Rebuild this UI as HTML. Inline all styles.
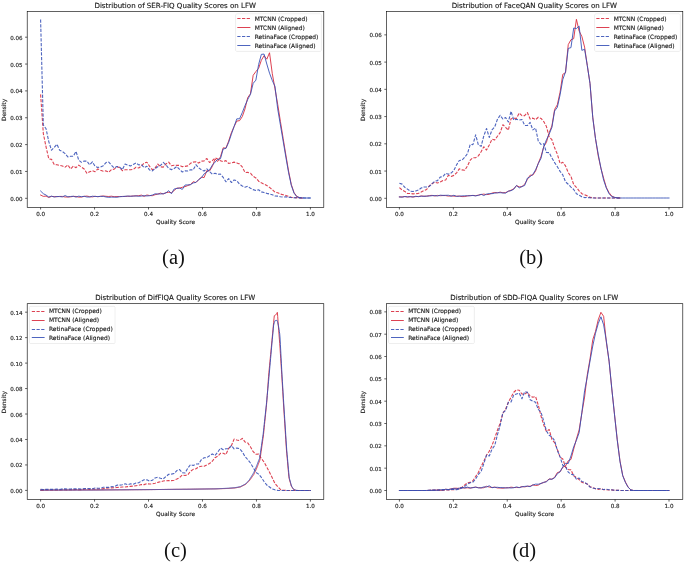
<!DOCTYPE html>
<html lang="en">
<head>
<meta charset="utf-8">
<title>Distribution of Quality Scores on LFW</title>
<style>
html,body{margin:0;padding:0;background:#ffffff;}
body{width:685px;height:563px;overflow:hidden;}
</style>
</head>
<body>
<svg width="685" height="563" viewBox="0 0 685 563" style="display:block;will-change:transform;opacity:0.999">
<rect width="685" height="563" fill="#ffffff"/>
<g font-family="'DejaVu Sans', 'Liberation Sans', sans-serif" font-size="5.85" fill="#1a1a1a" stroke="#1a1a1a" stroke-width="0.14" paint-order="stroke">
<clipPath id="cp0"><rect x="27.2" y="11.4" width="296.6" height="196.0"/></clipPath>
<g clip-path="url(#cp0)" fill="none" stroke-width="1.0" stroke-linejoin="round" stroke-opacity="0.88">
<polyline points="40.60,94.36 43.33,133.56 46.05,146.99 48.78,158.80 51.50,159.34 54.23,164.44 56.95,164.71 59.68,165.41 62.40,165.92 65.13,167.13 67.85,164.91 70.58,168.98 73.30,166.17 76.03,167.69 78.75,165.16 81.48,167.07 84.20,169.02 86.93,173.33 89.65,171.85 92.38,170.67 95.11,171.68 97.83,168.92 100.56,170.22 103.28,171.19 106.01,170.91 108.73,172.28 111.46,169.62 114.18,169.18 116.91,166.73 119.63,167.61 122.36,170.64 125.08,169.82 127.81,169.81 130.53,169.82 133.26,169.43 135.98,167.26 138.71,167.95 141.43,165.98 144.16,163.04 146.88,162.19 149.61,166.37 152.34,169.70 155.06,168.17 157.79,164.03 160.51,166.83 163.24,167.09 165.96,163.95 168.69,162.14 171.41,165.74 174.14,165.30 176.86,165.33 179.59,165.40 182.31,166.63 185.04,166.39 187.76,165.89 190.49,163.35 193.21,162.10 195.94,161.78 198.66,163.07 201.39,161.15 204.12,160.85 206.84,158.48 209.57,162.46 212.29,160.65 215.02,157.93 217.74,158.95 220.47,160.69 223.19,161.70 225.92,160.63 228.64,163.42 231.37,162.95 234.09,162.13 236.82,162.90 239.54,163.92 242.27,166.93 244.99,172.45 247.72,172.37 250.44,173.22 253.17,176.30 255.89,177.91 258.62,181.18 261.35,182.87 264.07,184.12 266.80,185.56 269.52,187.39 272.25,189.55 274.97,192.24 277.70,192.82 280.42,194.06 283.15,194.72 285.87,195.43 288.60,196.46 291.32,197.24 294.05,197.57 296.77,197.66 299.50,197.99 302.22,198.00" stroke="#d8283a" stroke-dasharray="3.25 1.45" stroke-width="1.1"/>
<polyline points="40.60,195.05 43.33,196.39 46.05,196.08 48.78,197.44 51.50,196.43 54.23,196.59 56.95,196.71 59.68,196.43 62.40,196.43 65.13,197.01 67.85,196.98 70.58,196.83 73.30,196.41 76.03,196.46 78.75,197.13 81.48,197.06 84.20,196.39 86.93,196.09 89.65,196.67 92.38,196.90 95.11,196.26 97.83,196.74 100.56,196.33 103.28,195.99 106.01,196.31 108.73,196.49 111.46,196.21 114.18,196.71 116.91,196.50 119.63,196.63 122.36,196.44 125.08,196.47 127.81,196.26 130.53,196.25 133.26,195.96 135.98,195.88 138.71,195.69 141.43,195.11 144.16,196.42 146.88,195.00 149.61,195.54 152.34,195.68 155.06,194.71 157.79,194.14 160.51,193.08 163.24,194.01 165.96,192.66 168.69,192.25 171.41,192.61 174.14,190.56 176.86,188.10 179.59,188.15 182.31,187.25 185.04,186.68 187.76,185.56 190.49,184.50 193.21,181.68 195.94,182.56 198.66,179.83 201.39,177.06 204.12,177.58 206.84,170.61 209.57,170.98 212.29,166.54 215.02,159.18 217.74,161.45 220.47,156.71 223.19,147.79 225.92,148.22 228.64,141.12 231.37,132.76 234.09,126.64 236.82,121.04 239.54,120.67 242.27,116.64 244.99,108.86 247.72,97.58 250.44,93.82 253.17,75.30 255.89,71.54 258.62,68.31 261.35,60.26 264.07,55.69 266.80,59.19 269.52,52.74 272.25,73.42 274.97,88.72 277.70,104.29 280.42,121.48 283.15,138.39 285.87,155.04 288.60,171.15 291.32,184.57 294.05,192.63 296.77,196.39 299.50,197.60 302.22,198.00" stroke="#d8283a" stroke-linecap="square"/>
<polyline points="40.60,19.45 43.33,124.97 46.05,128.73 48.78,141.62 51.50,150.21 54.23,147.52 56.95,144.30 59.68,150.35 62.40,151.57 65.13,153.64 67.85,156.91 70.58,156.28 73.30,156.19 76.03,151.45 78.75,160.20 81.48,162.34 84.20,161.07 86.93,161.12 89.65,164.82 92.38,161.78 95.11,166.33 97.83,167.41 100.56,166.93 103.28,165.64 106.01,162.53 108.73,162.12 111.46,165.21 114.18,167.92 116.91,166.62 119.63,167.06 122.36,169.71 125.08,164.09 127.81,165.04 130.53,165.98 133.26,164.43 135.98,162.99 138.71,164.88 141.43,164.68 144.16,167.56 146.88,166.21 149.61,170.06 152.34,170.95 155.06,168.65 157.79,166.79 160.51,165.44 163.24,162.44 165.96,164.83 168.69,168.52 171.41,169.63 174.14,168.48 176.86,166.55 179.59,169.45 182.31,172.01 185.04,170.92 187.76,170.96 190.49,169.68 193.21,169.94 195.94,164.73 198.66,167.77 201.39,169.79 204.12,171.04 206.84,168.85 209.57,171.58 212.29,174.22 215.02,173.29 217.74,174.26 220.47,174.08 223.19,177.39 225.92,181.78 228.64,178.58 231.37,182.54 234.09,179.97 236.82,180.82 239.54,184.17 242.27,185.94 244.99,187.18 247.72,186.26 250.44,188.26 253.17,189.64 255.89,190.44 258.62,189.79 261.35,191.89 264.07,192.58 266.80,193.35 269.52,194.00 272.25,194.75 274.97,195.95 277.70,196.15 280.42,196.72 283.15,197.08 285.87,196.83 288.60,197.42 291.32,197.53 294.05,197.81 296.77,197.85 299.50,197.73 302.22,197.91 304.95,197.95 307.67,197.93 310.40,198.00" stroke="#3550b6" stroke-dasharray="3.25 1.45" stroke-width="1.1"/>
<polyline points="40.60,191.02 43.33,193.70 46.05,195.05 48.78,197.06 51.50,196.14 54.23,197.06 56.95,196.50 59.68,196.59 62.40,196.88 65.13,195.57 67.85,196.87 70.58,196.49 73.30,196.26 76.03,197.10 78.75,196.17 81.48,196.70 84.20,196.29 86.93,196.99 89.65,197.03 92.38,196.22 95.11,196.47 97.83,196.57 100.56,196.36 103.28,196.37 106.01,196.98 108.73,197.35 111.46,197.13 114.18,197.15 116.91,197.30 119.63,196.66 122.36,196.57 125.08,196.29 127.81,196.09 130.53,196.26 133.26,196.11 135.98,195.88 138.71,196.28 141.43,196.09 144.16,195.68 146.88,195.95 149.61,195.71 152.34,195.07 155.06,193.84 157.79,194.01 160.51,193.98 163.24,193.68 165.96,192.90 168.69,190.68 171.41,193.79 174.14,189.00 176.86,188.45 179.59,187.99 182.31,189.42 185.04,185.06 187.76,184.91 190.49,184.69 193.21,182.94 195.94,182.40 198.66,179.57 201.39,177.80 204.12,173.84 206.84,172.11 209.57,169.81 212.29,165.23 215.02,162.12 217.74,159.43 220.47,158.73 223.19,148.93 225.92,148.42 228.64,142.49 231.37,134.30 234.09,126.49 236.82,118.84 239.54,118.79 242.27,112.62 244.99,105.64 247.72,99.46 250.44,94.36 253.17,83.35 255.89,80.13 258.62,64.56 261.35,54.35 264.07,54.08 266.80,64.02 269.52,73.15 272.25,80.40 274.97,86.30 277.70,108.86 280.42,124.97 283.15,141.08 285.87,157.19 288.60,172.76 291.32,185.38 294.05,193.17 296.77,196.66 299.50,197.73 302.22,198.00 304.95,198.00 307.67,198.00 310.40,198.00" stroke="#3550b6" stroke-linecap="square"/>
</g>
<rect x="27.2" y="11.4" width="296.6" height="196.0" fill="none" stroke="#000" stroke-width="0.62"/>
<text x="40.60" y="216.15" text-anchor="middle" font-size="5.6">0.0</text>
<text x="94.56" y="216.15" text-anchor="middle" font-size="5.6">0.2</text>
<text x="148.52" y="216.15" text-anchor="middle" font-size="5.6">0.4</text>
<text x="202.48" y="216.15" text-anchor="middle" font-size="5.6">0.6</text>
<text x="256.44" y="216.15" text-anchor="middle" font-size="5.6">0.8</text>
<text x="310.40" y="216.15" text-anchor="middle" font-size="5.6">1.0</text>
<text x="22.60" y="200.80" text-anchor="end" font-size="5.55">0.00</text>
<text x="22.60" y="173.95" text-anchor="end" font-size="5.55">0.01</text>
<text x="22.60" y="147.10" text-anchor="end" font-size="5.55">0.02</text>
<text x="22.60" y="120.25" text-anchor="end" font-size="5.55">0.03</text>
<text x="22.60" y="93.40" text-anchor="end" font-size="5.55">0.04</text>
<text x="22.60" y="66.55" text-anchor="end" font-size="5.55">0.05</text>
<text x="22.60" y="39.70" text-anchor="end" font-size="5.55">0.06</text>
<path d="M40.60 207.40v2.1M94.56 207.40v2.1M148.52 207.40v2.1M202.48 207.40v2.1M256.44 207.40v2.1M310.40 207.40v2.1M27.20 198.30h-2.1M27.20 171.45h-2.1M27.20 144.60h-2.1M27.20 117.75h-2.1M27.20 90.90h-2.1M27.20 64.05h-2.1M27.20 37.20h-2.1" stroke="#000" stroke-width="0.62" fill="none"/>
<text x="175.50" y="224.30" text-anchor="middle">Quality Score</text>
<text transform="translate(6.10 110.00) rotate(-90)" text-anchor="middle">Density</text>
<text x="175.20" y="7.50" text-anchor="middle" font-size="7.05">Distribution of SER-FIQ Quality Scores on LFW</text>
<rect x="235.80" y="14.10" width="85.3" height="37.1" rx="1.2" ry="1.2" fill="#fff" fill-opacity="0.8" stroke="#cccccc" stroke-width="0.55"/>
<line x1="237.30" y1="18.50" x2="250.40" y2="18.50" stroke="#d8283a" stroke-width="1.0" stroke-opacity="0.88" stroke-dasharray="3.25 1.45"/>
<text x="254.70" y="20.85" font-size="5.93">MTCNN (Cropped)</text>
<line x1="237.30" y1="27.50" x2="250.40" y2="27.50" stroke="#d8283a" stroke-width="1.0" stroke-opacity="0.88"/>
<text x="254.70" y="29.80" font-size="5.93">MTCNN (Aligned)</text>
<line x1="237.30" y1="36.50" x2="250.40" y2="36.50" stroke="#3550b6" stroke-width="1.0" stroke-opacity="0.88" stroke-dasharray="3.25 1.45"/>
<text x="254.70" y="38.75" font-size="5.93">RetinaFace (Cropped)</text>
<line x1="237.30" y1="45.50" x2="250.40" y2="45.50" stroke="#3550b6" stroke-width="1.0" stroke-opacity="0.88"/>
<text x="254.70" y="47.70" font-size="5.93">RetinaFace (Aligned)</text>
</g>
<text x="173.5" y="264.4" text-anchor="middle" font-family="'Liberation Serif', 'DejaVu Serif', serif" font-size="20.5" fill="#111">(a)</text>
<g font-family="'DejaVu Sans', 'Liberation Sans', sans-serif" font-size="5.85" fill="#1a1a1a" stroke="#1a1a1a" stroke-width="0.14" paint-order="stroke">
<clipPath id="cp1"><rect x="386.4" y="11.4" width="296.4" height="196.0"/></clipPath>
<g clip-path="url(#cp1)" fill="none" stroke-width="1.0" stroke-linejoin="round" stroke-opacity="0.88">
<polyline points="399.40,187.61 402.12,189.99 404.85,191.42 407.57,193.55 410.29,193.47 413.02,193.83 415.74,193.65 418.46,193.36 421.19,192.08 423.91,190.60 426.63,189.51 429.36,185.74 432.08,183.69 434.80,182.14 437.53,183.02 440.25,181.95 442.97,180.48 445.69,179.93 448.42,175.34 451.14,176.39 453.86,175.37 456.59,172.85 459.31,168.84 462.03,169.89 464.76,170.32 467.48,165.99 470.20,160.19 472.93,157.78 475.65,157.73 478.37,155.83 481.10,151.74 483.82,146.78 486.54,150.03 489.27,145.09 491.99,139.21 494.71,139.94 497.44,136.21 500.16,132.62 502.88,124.71 505.61,127.47 508.33,130.10 511.05,118.68 513.78,118.28 516.50,118.37 519.22,112.95 521.95,115.66 524.67,115.63 527.39,112.59 530.12,119.01 532.84,118.11 535.56,119.68 538.28,117.26 541.01,118.39 543.73,121.56 546.45,126.60 549.18,136.95 551.90,139.72 554.62,147.83 557.35,154.19 560.07,163.49 562.79,162.34 565.52,165.92 568.24,172.65 570.96,176.39 573.69,184.54 576.41,187.27 579.13,190.82 581.86,193.73 584.58,194.72 587.30,195.87 590.03,197.40 592.75,197.71 595.47,198.00 598.20,198.00 600.92,198.00 603.64,198.00 606.37,198.00 609.09,198.00 611.81,198.00 614.54,198.00 617.26,198.00 619.98,198.00" stroke="#d8283a" stroke-dasharray="3.25 1.45" stroke-width="1.1"/>
<polyline points="399.40,196.92 402.12,196.88 404.85,196.56 407.57,197.04 410.29,196.51 413.02,197.05 415.74,196.57 418.46,196.47 421.19,196.00 423.91,196.20 426.63,196.26 429.36,195.56 432.08,195.37 434.80,195.97 437.53,195.42 440.25,195.70 442.97,195.56 445.69,195.59 448.42,196.14 451.14,195.77 453.86,196.18 456.59,196.21 459.31,196.11 462.03,196.61 464.76,196.52 467.48,195.89 470.20,195.61 472.93,195.40 475.65,195.67 478.37,195.14 481.10,194.55 483.82,194.10 486.54,194.59 489.27,194.33 491.99,193.12 494.71,192.47 497.44,192.80 500.16,192.11 502.88,192.78 505.61,192.53 508.33,191.32 511.05,190.19 513.78,188.79 516.50,185.63 519.22,186.88 521.95,186.60 524.67,184.25 527.39,179.48 530.12,175.19 532.84,175.10 535.56,171.09 538.28,163.34 541.01,156.55 543.73,146.71 546.45,142.34 549.18,132.64 551.90,125.98 554.62,109.41 557.35,104.70 560.07,92.22 562.79,74.33 565.52,72.70 568.24,44.64 570.96,39.74 573.69,38.65 576.41,19.31 579.13,31.02 581.86,36.47 584.58,47.09 587.30,65.61 590.03,83.59 592.75,117.10 595.47,138.55 598.20,155.76 600.92,168.19 603.64,178.24 606.37,187.52 609.09,192.70 611.81,196.08 614.54,197.37 617.26,197.81 619.98,198.00" stroke="#d8283a" stroke-linecap="square"/>
<polyline points="399.40,183.24 402.12,184.11 404.85,187.37 407.57,189.18 410.29,191.19 413.02,191.52 415.74,190.98 418.46,190.06 421.19,187.99 423.91,187.07 426.63,186.96 429.36,186.43 432.08,183.67 434.80,181.27 437.53,180.62 440.25,177.11 442.97,176.47 445.69,173.19 448.42,174.22 451.14,173.08 453.86,170.45 456.59,164.88 459.31,160.44 462.03,160.04 464.76,157.26 467.48,153.56 470.20,144.50 472.93,144.67 475.65,134.84 478.37,144.92 481.10,146.37 483.82,135.77 486.54,128.52 489.27,137.45 491.99,129.95 494.71,126.93 497.44,119.28 500.16,115.30 502.88,119.05 505.61,117.49 508.33,122.02 511.05,111.30 513.78,120.10 516.50,119.29 519.22,120.07 521.95,119.47 524.67,125.42 527.39,125.56 530.12,122.37 532.84,129.89 535.56,128.09 538.28,141.04 541.01,144.52 543.73,143.67 546.45,152.53 549.18,152.68 551.90,157.94 554.62,162.65 557.35,166.65 560.07,171.37 562.79,174.92 565.52,181.88 568.24,184.27 570.96,187.08 573.69,189.51 576.41,193.67 579.13,195.13 581.86,196.82 584.58,197.59 587.30,197.57 590.03,197.79 592.75,197.97 595.47,198.00 598.20,198.00 600.92,198.00 603.64,198.00 606.37,198.00 609.09,198.00 611.81,198.00 614.54,198.00 617.26,198.00 619.98,198.00" stroke="#3550b6" stroke-dasharray="3.25 1.45" stroke-width="1.1"/>
<polyline points="399.40,196.93 402.12,197.18 404.85,196.55 407.57,196.80 410.29,196.81 413.02,196.88 415.74,196.29 418.46,196.70 421.19,196.13 423.91,196.35 426.63,196.07 429.36,196.04 432.08,195.68 434.80,195.52 437.53,195.98 440.25,195.21 442.97,195.38 445.69,195.34 448.42,195.26 451.14,196.26 453.86,195.28 456.59,196.39 459.31,196.16 462.03,195.93 464.76,195.79 467.48,195.77 470.20,195.70 472.93,195.49 475.65,195.88 478.37,195.37 481.10,194.22 483.82,195.52 486.54,194.11 489.27,193.60 491.99,193.70 494.71,193.11 497.44,192.74 500.16,192.70 502.88,192.94 505.61,193.17 508.33,191.16 511.05,190.68 513.78,189.23 516.50,185.45 519.22,187.88 521.95,186.54 524.67,185.53 527.39,178.16 530.12,176.70 532.84,174.34 535.56,169.92 538.28,163.60 541.01,158.27 543.73,146.73 546.45,139.79 549.18,134.14 551.90,127.41 554.62,111.04 557.35,107.24 560.07,94.91 562.79,79.51 565.52,71.88 568.24,48.45 570.96,47.64 573.69,28.02 576.41,28.57 579.13,26.12 581.86,50.36 584.58,49.27 587.30,65.61 590.03,83.59 592.75,117.61 595.47,138.51 598.20,154.04 600.92,168.07 603.64,180.17 606.37,188.06 609.09,193.85 611.81,196.56 614.54,197.37 617.26,197.86 619.98,198.00 622.71,198.00 625.43,198.00 628.15,198.00 630.87,198.00 633.60,198.00 636.32,198.00 639.04,198.00 641.77,198.00 644.49,198.00 647.21,198.00 649.94,198.00 652.66,198.00 655.38,198.00 658.11,198.00 660.83,198.00 663.55,198.00 666.28,198.00 669.00,198.00" stroke="#3550b6" stroke-linecap="square"/>
</g>
<rect x="386.4" y="11.4" width="296.4" height="196.0" fill="none" stroke="#000" stroke-width="0.62"/>
<text x="399.40" y="216.15" text-anchor="middle" font-size="5.6">0.0</text>
<text x="453.32" y="216.15" text-anchor="middle" font-size="5.6">0.2</text>
<text x="507.24" y="216.15" text-anchor="middle" font-size="5.6">0.4</text>
<text x="561.16" y="216.15" text-anchor="middle" font-size="5.6">0.6</text>
<text x="615.08" y="216.15" text-anchor="middle" font-size="5.6">0.8</text>
<text x="669.00" y="216.15" text-anchor="middle" font-size="5.6">1.0</text>
<text x="381.80" y="200.80" text-anchor="end" font-size="5.55">0.00</text>
<text x="381.80" y="173.56" text-anchor="end" font-size="5.55">0.01</text>
<text x="381.80" y="146.32" text-anchor="end" font-size="5.55">0.02</text>
<text x="381.80" y="119.08" text-anchor="end" font-size="5.55">0.03</text>
<text x="381.80" y="91.84" text-anchor="end" font-size="5.55">0.04</text>
<text x="381.80" y="64.60" text-anchor="end" font-size="5.55">0.05</text>
<text x="381.80" y="37.36" text-anchor="end" font-size="5.55">0.06</text>
<path d="M399.40 207.40v2.1M453.32 207.40v2.1M507.24 207.40v2.1M561.16 207.40v2.1M615.08 207.40v2.1M669.00 207.40v2.1M386.40 198.30h-2.1M386.40 171.06h-2.1M386.40 143.82h-2.1M386.40 116.58h-2.1M386.40 89.34h-2.1M386.40 62.10h-2.1M386.40 34.86h-2.1" stroke="#000" stroke-width="0.62" fill="none"/>
<text x="534.60" y="224.30" text-anchor="middle">Quality Score</text>
<text transform="translate(365.30 110.00) rotate(-90)" text-anchor="middle">Density</text>
<text x="534.30" y="7.50" text-anchor="middle" font-size="7.05">Distribution of FaceQAN Quality Scores on LFW</text>
<rect x="594.80" y="14.10" width="85.3" height="37.1" rx="1.2" ry="1.2" fill="#fff" fill-opacity="0.8" stroke="#cccccc" stroke-width="0.55"/>
<line x1="596.30" y1="18.50" x2="609.40" y2="18.50" stroke="#d8283a" stroke-width="1.0" stroke-opacity="0.88" stroke-dasharray="3.25 1.45"/>
<text x="613.70" y="20.85" font-size="5.93">MTCNN (Cropped)</text>
<line x1="596.30" y1="27.50" x2="609.40" y2="27.50" stroke="#d8283a" stroke-width="1.0" stroke-opacity="0.88"/>
<text x="613.70" y="29.80" font-size="5.93">MTCNN (Aligned)</text>
<line x1="596.30" y1="36.50" x2="609.40" y2="36.50" stroke="#3550b6" stroke-width="1.0" stroke-opacity="0.88" stroke-dasharray="3.25 1.45"/>
<text x="613.70" y="38.75" font-size="5.93">RetinaFace (Cropped)</text>
<line x1="596.30" y1="45.50" x2="609.40" y2="45.50" stroke="#3550b6" stroke-width="1.0" stroke-opacity="0.88"/>
<text x="613.70" y="47.70" font-size="5.93">RetinaFace (Aligned)</text>
</g>
<text x="531.1" y="264.4" text-anchor="middle" font-family="'Liberation Serif', 'DejaVu Serif', serif" font-size="20.5" fill="#111">(b)</text>
<g font-family="'DejaVu Sans', 'Liberation Sans', sans-serif" font-size="5.85" fill="#1a1a1a" stroke="#1a1a1a" stroke-width="0.14" paint-order="stroke">
<clipPath id="cp2"><rect x="27.2" y="303.7" width="296.6" height="195.8"/></clipPath>
<g clip-path="url(#cp2)" fill="none" stroke-width="1.0" stroke-linejoin="round" stroke-opacity="0.88">
<polyline points="40.60,490.08 43.33,490.12 46.05,489.84 48.78,490.07 51.50,490.00 54.23,489.83 56.95,490.03 59.68,489.95 62.40,489.81 65.13,489.82 67.85,489.88 70.58,489.71 73.30,489.68 76.03,489.49 78.75,489.76 81.48,489.57 84.20,489.20 86.93,488.99 89.65,489.44 92.38,488.99 95.11,489.18 97.83,489.07 100.56,488.96 103.28,488.65 106.01,488.14 108.73,487.96 111.46,487.89 114.18,487.80 116.91,487.52 119.63,487.36 122.36,486.93 125.08,487.07 127.81,486.63 130.53,486.39 133.26,486.11 135.98,485.70 138.71,485.33 141.43,484.56 144.16,484.64 146.88,483.68 149.61,484.06 152.34,483.84 155.06,483.18 157.79,482.41 160.51,481.77 163.24,480.98 165.96,480.70 168.69,480.65 171.41,480.66 174.14,480.17 176.86,479.08 179.59,477.67 182.31,475.05 185.04,475.55 187.76,474.90 190.49,471.25 193.21,469.41 195.94,468.76 198.66,466.96 201.39,466.30 204.12,466.31 206.84,464.93 209.57,463.50 212.29,461.25 215.02,457.64 217.74,456.26 220.47,453.42 223.19,453.20 225.92,454.61 228.64,448.29 231.37,445.70 234.09,439.13 236.82,439.92 239.54,440.53 242.27,438.40 244.99,441.92 247.72,442.89 250.44,446.78 253.17,451.67 255.89,454.19 258.62,454.10 261.35,458.47 264.07,462.07 266.80,467.05 269.52,472.33 272.25,477.76 274.97,483.48 277.70,486.52 280.42,489.40 283.15,490.32 285.87,490.39 288.60,490.50 291.32,490.50 294.05,490.50 296.77,490.50 299.50,490.50 302.22,490.50 304.95,490.50 307.67,490.50 310.40,490.50" stroke="#d8283a" stroke-dasharray="3.25 1.45" stroke-width="1.1"/>
<polyline points="40.60,490.12 40.94,490.12 41.27,490.12 41.61,490.12 41.95,490.11 42.29,490.11 42.62,490.11 42.96,490.11 43.30,490.11 43.64,490.11 43.97,490.11 44.31,490.11 44.65,490.11 44.98,490.11 45.32,490.11 45.66,490.11 46.00,490.11 46.33,490.10 46.67,490.10 47.01,490.10 47.34,490.10 47.68,490.10 48.02,490.10 48.36,490.10 48.69,490.10 49.03,490.10 49.37,490.10 49.71,490.10 50.04,490.10 50.38,490.10 50.72,490.09 51.05,490.09 51.39,490.09 51.73,490.09 52.07,490.09 52.40,490.09 52.74,490.09 53.08,490.09 53.42,490.09 53.75,490.09 54.09,490.09 54.43,490.09 54.76,490.08 55.10,490.08 55.44,490.08 55.78,490.08 56.11,490.08 56.45,490.08 56.79,490.08 57.13,490.08 57.46,490.08 57.80,490.08 58.14,490.08 58.47,490.08 58.81,490.08 59.15,490.07 59.49,490.07 59.82,490.07 60.16,490.07 60.50,490.07 60.84,490.07 61.17,490.07 61.51,490.07 61.85,490.07 62.18,490.07 62.52,490.07 62.86,490.07 63.20,490.06 63.53,490.06 63.87,490.06 64.21,490.06 64.54,490.06 64.88,490.06 65.22,490.06 65.56,490.06 65.89,490.06 66.23,490.06 66.57,490.06 66.91,490.06 67.24,490.06 67.58,490.05 67.92,490.05 68.25,490.05 68.59,490.05 68.93,490.05 69.27,490.05 69.60,490.05 69.94,490.05 70.28,490.05 70.62,490.05 70.95,490.05 71.29,490.05 71.63,490.04 71.96,490.04 72.30,490.04 72.64,490.04 72.98,490.04 73.31,490.04 73.65,490.04 73.99,490.04 74.33,490.04 74.66,490.04 75.00,490.04 75.34,490.04 75.67,490.04 76.01,490.03 76.35,490.03 76.69,490.03 77.02,490.03 77.36,490.03 77.70,490.03 78.03,490.03 78.37,490.03 78.71,490.03 79.05,490.03 79.38,490.03 79.72,490.03 80.06,490.03 80.40,490.02 80.73,490.02 81.07,490.02 81.41,490.02 81.74,490.02 82.08,490.02 82.42,490.02 82.76,490.02 83.09,490.02 83.43,490.02 83.77,490.02 84.11,490.02 84.44,490.01 84.78,490.01 85.12,490.01 85.45,490.01 85.79,490.01 86.13,490.01 86.47,490.01 86.80,490.01 87.14,490.01 87.48,490.01 87.81,490.01 88.15,490.01 88.49,490.01 88.83,490.00 89.16,490.00 89.50,490.00 89.84,490.00 90.18,490.00 90.51,490.00 90.85,490.00 91.19,490.00 91.52,490.00 91.86,490.00 92.20,490.00 92.54,490.00 92.87,489.99 93.21,489.99 93.55,489.99 93.89,489.99 94.22,489.99 94.56,489.99 94.90,489.99 95.23,489.99 95.57,489.98 95.91,489.98 96.25,489.98 96.58,489.98 96.92,489.97 97.26,489.97 97.60,489.97 97.93,489.97 98.27,489.96 98.61,489.96 98.94,489.96 99.28,489.96 99.62,489.95 99.96,489.95 100.29,489.95 100.63,489.95 100.97,489.95 101.31,489.94 101.64,489.94 101.98,489.94 102.32,489.94 102.65,489.93 102.99,489.93 103.33,489.93 103.67,489.93 104.00,489.92 104.34,489.92 104.68,489.92 105.01,489.92 105.35,489.91 105.69,489.91 106.03,489.91 106.36,489.91 106.70,489.90 107.04,489.90 107.38,489.90 107.71,489.90 108.05,489.90 108.39,489.89 108.72,489.89 109.06,489.89 109.40,489.89 109.74,489.88 110.07,489.88 110.41,489.88 110.75,489.88 111.09,489.87 111.42,489.87 111.76,489.87 112.10,489.87 112.43,489.86 112.77,489.86 113.11,489.86 113.45,489.86 113.78,489.85 114.12,489.85 114.46,489.85 114.80,489.85 115.13,489.85 115.47,489.84 115.81,489.84 116.14,489.84 116.48,489.84 116.82,489.83 117.16,489.83 117.49,489.83 117.83,489.83 118.17,489.82 118.50,489.82 118.84,489.82 119.18,489.82 119.52,489.81 119.85,489.81 120.19,489.81 120.53,489.81 120.87,489.80 121.20,489.80 121.54,489.80 121.88,489.80 122.21,489.80 122.55,489.79 122.89,489.79 123.23,489.79 123.56,489.79 123.90,489.78 124.24,489.78 124.58,489.78 124.91,489.78 125.25,489.77 125.59,489.77 125.92,489.77 126.26,489.77 126.60,489.76 126.94,489.76 127.27,489.76 127.61,489.76 127.95,489.75 128.28,489.75 128.62,489.75 128.96,489.75 129.30,489.74 129.63,489.74 129.97,489.74 130.31,489.74 130.65,489.74 130.98,489.73 131.32,489.73 131.66,489.73 131.99,489.73 132.33,489.72 132.67,489.72 133.01,489.72 133.34,489.72 133.68,489.71 134.02,489.71 134.36,489.71 134.69,489.71 135.03,489.70 135.37,489.70 135.70,489.70 136.04,489.70 136.38,489.69 136.72,489.69 137.05,489.69 137.39,489.69 137.73,489.69 138.07,489.68 138.40,489.68 138.74,489.68 139.08,489.68 139.41,489.67 139.75,489.67 140.09,489.67 140.43,489.67 140.76,489.66 141.10,489.66 141.44,489.66 141.78,489.66 142.11,489.65 142.45,489.65 142.79,489.65 143.12,489.65 143.46,489.64 143.80,489.64 144.14,489.64 144.47,489.64 144.81,489.64 145.15,489.63 145.48,489.63 145.82,489.63 146.16,489.63 146.50,489.62 146.83,489.62 147.17,489.62 147.51,489.62 147.85,489.61 148.18,489.61 148.52,489.61 148.86,489.61 149.19,489.60 149.53,489.60 149.87,489.60 150.21,489.59 150.54,489.59 150.88,489.59 151.22,489.58 151.56,489.58 151.89,489.58 152.23,489.57 152.57,489.57 152.90,489.57 153.24,489.56 153.58,489.56 153.92,489.56 154.25,489.55 154.59,489.55 154.93,489.55 155.27,489.55 155.60,489.54 155.94,489.54 156.28,489.54 156.61,489.53 156.95,489.53 157.29,489.53 157.63,489.52 157.96,489.52 158.30,489.52 158.64,489.51 158.97,489.51 159.31,489.51 159.65,489.50 159.99,489.50 160.32,489.50 160.66,489.49 161.00,489.49 161.34,489.49 161.67,489.48 162.01,489.48 162.35,489.48 162.68,489.48 163.02,489.47 163.36,489.47 163.70,489.47 164.03,489.46 164.37,489.46 164.71,489.46 165.05,489.45 165.38,489.45 165.72,489.45 166.06,489.44 166.39,489.44 166.73,489.44 167.07,489.43 167.41,489.43 167.74,489.43 168.08,489.42 168.42,489.42 168.75,489.42 169.09,489.41 169.43,489.41 169.77,489.41 170.10,489.41 170.44,489.40 170.78,489.40 171.12,489.40 171.45,489.39 171.79,489.39 172.13,489.39 172.46,489.38 172.80,489.38 173.14,489.38 173.48,489.37 173.81,489.37 174.15,489.37 174.49,489.36 174.83,489.36 175.16,489.36 175.50,489.35 175.84,489.35 176.17,489.35 176.51,489.34 176.85,489.34 177.19,489.34 177.52,489.34 177.86,489.33 178.20,489.33 178.54,489.33 178.87,489.32 179.21,489.32 179.55,489.32 179.88,489.31 180.22,489.31 180.56,489.31 180.90,489.30 181.23,489.30 181.57,489.30 181.91,489.29 182.25,489.29 182.58,489.29 182.92,489.28 183.26,489.28 183.59,489.28 183.93,489.27 184.27,489.27 184.61,489.27 184.94,489.27 185.28,489.26 185.62,489.26 185.95,489.26 186.29,489.25 186.63,489.25 186.97,489.25 187.30,489.24 187.64,489.24 187.98,489.24 188.32,489.23 188.65,489.23 188.99,489.23 189.33,489.22 189.66,489.22 190.00,489.21 190.34,489.21 190.68,489.20 191.01,489.20 191.35,489.19 191.69,489.19 192.03,489.18 192.36,489.18 192.70,489.17 193.04,489.17 193.37,489.16 193.71,489.16 194.05,489.16 194.39,489.15 194.72,489.15 195.06,489.14 195.40,489.14 195.74,489.13 196.07,489.13 196.41,489.12 196.75,489.12 197.08,489.11 197.42,489.11 197.76,489.10 198.10,489.10 198.43,489.09 198.77,489.09 199.11,489.08 199.44,489.08 199.78,489.07 200.12,489.07 200.46,489.06 200.79,489.06 201.13,489.06 201.47,489.05 201.81,489.05 202.14,489.04 202.48,489.04 202.82,489.03 203.15,489.03 203.49,489.02 203.83,489.02 204.17,489.01 204.50,489.01 204.84,489.00 205.18,489.00 205.52,488.99 205.85,488.99 206.19,488.98 206.53,488.98 206.86,488.97 207.20,488.97 207.54,488.96 207.88,488.96 208.21,488.95 208.55,488.95 208.89,488.95 209.22,488.94 209.56,488.94 209.90,488.93 210.24,488.93 210.57,488.92 210.91,488.92 211.25,488.91 211.59,488.91 211.92,488.90 212.26,488.90 212.60,488.89 212.93,488.89 213.27,488.88 213.61,488.88 213.95,488.87 214.28,488.87 214.62,488.86 214.96,488.86 215.30,488.85 215.63,488.85 215.97,488.85 216.31,488.83 216.64,488.82 216.98,488.81 217.32,488.80 217.66,488.79 217.99,488.78 218.33,488.77 218.67,488.76 219.01,488.75 219.34,488.74 219.68,488.73 220.02,488.72 220.35,488.71 220.69,488.70 221.03,488.69 221.37,488.68 221.70,488.67 222.04,488.66 222.38,488.65 222.72,488.64 223.05,488.63 223.39,488.62 223.73,488.61 224.06,488.60 224.40,488.59 224.74,488.58 225.08,488.56 225.41,488.55 225.75,488.54 226.09,488.53 226.42,488.52 226.76,488.51 227.10,488.50 227.44,488.49 227.77,488.48 228.11,488.47 228.45,488.46 228.79,488.43 229.12,488.40 229.46,488.38 229.80,488.35 230.13,488.33 230.47,488.30 230.81,488.27 231.15,488.25 231.48,488.22 231.82,488.19 232.16,488.17 232.50,488.14 232.83,488.11 233.17,488.09 233.51,488.06 233.84,488.03 234.18,488.01 234.52,487.98 234.86,487.95 235.19,487.90 235.53,487.84 235.87,487.79 236.20,487.73 236.54,487.68 236.88,487.62 237.22,487.56 237.55,487.51 237.89,487.45 238.23,487.40 238.57,487.34 238.90,487.29 239.24,487.23 239.58,487.17 239.91,487.12 240.25,487.06 240.59,486.90 240.93,486.73 241.26,486.56 241.60,486.39 241.94,486.23 242.28,486.06 242.61,485.89 242.95,485.73 243.29,485.56 243.62,485.39 243.96,485.23 244.30,485.06 244.64,484.89 244.97,484.72 245.31,484.56 245.65,484.39 245.99,484.06 246.32,483.73 246.66,483.40 247.00,483.07 247.33,482.74 247.67,482.41 248.01,482.08 248.35,481.75 248.68,481.42 249.02,481.09 249.36,480.76 249.70,480.32 250.03,479.84 250.37,479.36 250.71,478.88 251.04,478.41 251.38,477.93 251.72,477.45 252.06,476.97 252.39,476.50 252.73,476.02 253.07,475.54 253.40,475.06 253.74,474.59 254.08,473.87 254.42,473.16 254.75,472.44 255.09,471.72 255.43,471.01 255.77,470.29 256.10,469.58 256.44,468.86 256.78,468.00 257.11,467.15 257.45,466.29 257.79,465.43 258.13,464.57 258.46,463.72 258.80,462.86 259.14,462.00 259.48,461.15 259.81,460.29 260.15,458.52 260.49,456.13 260.82,453.74 261.16,451.36 261.50,448.97 261.84,446.58 262.17,444.19 262.51,441.81 262.85,439.42 263.19,437.03 263.52,434.46 263.86,431.11 264.20,427.77 264.53,424.43 264.87,421.09 265.21,417.75 265.55,414.41 265.88,411.06 266.22,407.72 266.56,404.38 266.89,400.18 267.23,395.41 267.57,390.63 267.91,385.86 268.24,381.09 268.58,376.31 268.92,372.38 269.26,368.83 269.59,365.29 269.93,361.75 270.27,358.20 270.60,354.66 270.94,351.12 271.28,347.58 271.62,344.02 271.95,340.43 272.29,336.84 272.63,333.25 272.97,329.65 273.30,326.06 273.64,322.47 273.98,318.88 274.31,315.69 274.65,315.51 274.99,315.32 275.33,315.13 275.66,314.94 276.00,314.60 276.34,314.04 276.68,313.49 277.01,312.93 277.35,312.37 277.69,316.36 278.02,321.23 278.36,326.09 278.70,330.44 279.04,334.76 279.37,339.09 279.71,343.42 280.05,348.13 280.38,353.42 280.72,358.71 281.06,364.00 281.40,369.28 281.73,374.57 282.07,380.18 282.41,385.80 282.75,391.42 283.08,397.04 283.42,402.66 283.76,407.96 284.09,413.25 284.43,418.55 284.77,423.84 285.11,429.14 285.44,434.43 285.78,439.72 286.12,445.02 286.46,450.01 286.79,453.76 287.13,457.51 287.47,461.26 287.80,465.01 288.14,468.77 288.48,472.52 288.82,476.27 289.15,478.50 289.49,479.72 289.83,480.93 290.17,482.15 290.50,483.37 290.84,484.58 291.18,485.80 291.51,486.46 291.85,486.98 292.19,487.49 292.53,488.01 292.86,488.53 293.20,489.04 293.54,489.41 293.87,489.55 294.21,489.69 294.55,489.84 294.89,489.98 295.22,490.12 295.56,490.26 295.90,490.38 296.24,490.39 296.57,490.41 296.91,490.43 297.25,490.45 297.58,490.46 297.92,490.48 298.26,490.50 298.60,490.50 298.93,490.50 299.27,490.50 299.61,490.50 299.95,490.50 300.28,490.50 300.62,490.50 300.96,490.50 301.29,490.50 301.63,490.50 301.97,490.50 302.31,490.50 302.64,490.50 302.98,490.50 303.32,490.50 303.66,490.50 303.99,490.50 304.33,490.50 304.67,490.50 305.00,490.50 305.34,490.50 305.68,490.50 306.02,490.50 306.35,490.50 306.69,490.50 307.03,490.50 307.36,490.50 307.70,490.50 308.04,490.50 308.38,490.50 308.71,490.50 309.05,490.50 309.39,490.50 309.73,490.50 310.06,490.50 310.40,490.50" stroke="#d8283a" stroke-linecap="square"/>
<polyline points="40.60,489.24 43.33,489.50 46.05,489.37 48.78,489.26 51.50,489.40 54.23,489.22 56.95,489.17 59.68,489.42 62.40,488.90 65.13,488.91 67.85,489.08 70.58,488.95 73.30,488.77 76.03,488.86 78.75,488.81 81.48,488.98 84.20,488.53 86.93,488.54 89.65,488.43 92.38,488.73 95.11,487.99 97.83,488.23 100.56,488.21 103.28,487.26 106.01,487.36 108.73,487.36 111.46,486.66 114.18,486.72 116.91,485.17 119.63,485.13 122.36,484.73 125.08,483.85 127.81,484.77 130.53,483.75 133.26,484.15 135.98,483.05 138.71,482.72 141.43,481.04 144.16,479.80 146.88,479.87 149.61,481.14 152.34,480.33 155.06,477.99 157.79,477.28 160.51,478.32 163.24,478.91 165.96,476.59 168.69,474.27 171.41,474.16 174.14,473.54 176.86,470.51 179.59,469.64 182.31,472.76 185.04,473.03 187.76,468.24 190.49,464.63 193.21,465.45 195.94,464.04 198.66,463.88 201.39,459.67 204.12,457.69 206.84,457.55 209.57,455.74 212.29,453.92 215.02,455.38 217.74,452.15 220.47,448.08 223.19,449.70 225.92,448.78 228.64,448.81 231.37,445.57 234.09,448.83 236.82,448.10 239.54,448.65 242.27,451.79 244.99,456.50 247.72,459.53 250.44,463.01 253.17,467.54 255.89,472.38 258.62,474.12 261.35,477.47 264.07,481.50 266.80,485.06 269.52,487.02 272.25,489.00 274.97,489.85 277.70,490.38 280.42,490.50 283.15,490.50 285.87,490.50 288.60,490.50 291.32,490.50 294.05,490.50 296.77,490.50 299.50,490.50 302.22,490.50 304.95,490.50 307.67,490.50 310.40,490.50" stroke="#3550b6" stroke-dasharray="3.25 1.45" stroke-width="1.1"/>
<polyline points="40.60,490.12 40.94,490.12 41.27,490.12 41.61,490.12 41.95,490.11 42.29,490.11 42.62,490.11 42.96,490.11 43.30,490.11 43.64,490.11 43.97,490.11 44.31,490.11 44.65,490.11 44.98,490.11 45.32,490.11 45.66,490.11 46.00,490.11 46.33,490.10 46.67,490.10 47.01,490.10 47.34,490.10 47.68,490.10 48.02,490.10 48.36,490.10 48.69,490.10 49.03,490.10 49.37,490.10 49.71,490.10 50.04,490.10 50.38,490.10 50.72,490.09 51.05,490.09 51.39,490.09 51.73,490.09 52.07,490.09 52.40,490.09 52.74,490.09 53.08,490.09 53.42,490.09 53.75,490.09 54.09,490.09 54.43,490.09 54.76,490.08 55.10,490.08 55.44,490.08 55.78,490.08 56.11,490.08 56.45,490.08 56.79,490.08 57.13,490.08 57.46,490.08 57.80,490.08 58.14,490.08 58.47,490.08 58.81,490.08 59.15,490.07 59.49,490.07 59.82,490.07 60.16,490.07 60.50,490.07 60.84,490.07 61.17,490.07 61.51,490.07 61.85,490.07 62.18,490.07 62.52,490.07 62.86,490.07 63.20,490.06 63.53,490.06 63.87,490.06 64.21,490.06 64.54,490.06 64.88,490.06 65.22,490.06 65.56,490.06 65.89,490.06 66.23,490.06 66.57,490.06 66.91,490.06 67.24,490.06 67.58,490.05 67.92,490.05 68.25,490.05 68.59,490.05 68.93,490.05 69.27,490.05 69.60,490.05 69.94,490.05 70.28,490.05 70.62,490.05 70.95,490.05 71.29,490.05 71.63,490.04 71.96,490.04 72.30,490.04 72.64,490.04 72.98,490.04 73.31,490.04 73.65,490.04 73.99,490.04 74.33,490.04 74.66,490.04 75.00,490.04 75.34,490.04 75.67,490.04 76.01,490.03 76.35,490.03 76.69,490.03 77.02,490.03 77.36,490.03 77.70,490.03 78.03,490.03 78.37,490.03 78.71,490.03 79.05,490.03 79.38,490.03 79.72,490.03 80.06,490.03 80.40,490.02 80.73,490.02 81.07,490.02 81.41,490.02 81.74,490.02 82.08,490.02 82.42,490.02 82.76,490.02 83.09,490.02 83.43,490.02 83.77,490.02 84.11,490.02 84.44,490.01 84.78,490.01 85.12,490.01 85.45,490.01 85.79,490.01 86.13,490.01 86.47,490.01 86.80,490.01 87.14,490.01 87.48,490.01 87.81,490.01 88.15,490.01 88.49,490.01 88.83,490.00 89.16,490.00 89.50,490.00 89.84,490.00 90.18,490.00 90.51,490.00 90.85,490.00 91.19,490.00 91.52,490.00 91.86,490.00 92.20,490.00 92.54,490.00 92.87,489.99 93.21,489.99 93.55,489.99 93.89,489.99 94.22,489.99 94.56,489.99 94.90,489.99 95.23,489.99 95.57,489.98 95.91,489.98 96.25,489.98 96.58,489.98 96.92,489.97 97.26,489.97 97.60,489.97 97.93,489.97 98.27,489.96 98.61,489.96 98.94,489.96 99.28,489.96 99.62,489.95 99.96,489.95 100.29,489.95 100.63,489.95 100.97,489.95 101.31,489.94 101.64,489.94 101.98,489.94 102.32,489.94 102.65,489.93 102.99,489.93 103.33,489.93 103.67,489.93 104.00,489.92 104.34,489.92 104.68,489.92 105.01,489.92 105.35,489.91 105.69,489.91 106.03,489.91 106.36,489.91 106.70,489.90 107.04,489.90 107.38,489.90 107.71,489.90 108.05,489.90 108.39,489.89 108.72,489.89 109.06,489.89 109.40,489.89 109.74,489.88 110.07,489.88 110.41,489.88 110.75,489.88 111.09,489.87 111.42,489.87 111.76,489.87 112.10,489.87 112.43,489.86 112.77,489.86 113.11,489.86 113.45,489.86 113.78,489.85 114.12,489.85 114.46,489.85 114.80,489.85 115.13,489.85 115.47,489.84 115.81,489.84 116.14,489.84 116.48,489.84 116.82,489.83 117.16,489.83 117.49,489.83 117.83,489.83 118.17,489.82 118.50,489.82 118.84,489.82 119.18,489.82 119.52,489.81 119.85,489.81 120.19,489.81 120.53,489.81 120.87,489.80 121.20,489.80 121.54,489.80 121.88,489.80 122.21,489.80 122.55,489.79 122.89,489.79 123.23,489.79 123.56,489.79 123.90,489.78 124.24,489.78 124.58,489.78 124.91,489.78 125.25,489.77 125.59,489.77 125.92,489.77 126.26,489.77 126.60,489.76 126.94,489.76 127.27,489.76 127.61,489.76 127.95,489.75 128.28,489.75 128.62,489.75 128.96,489.75 129.30,489.74 129.63,489.74 129.97,489.74 130.31,489.74 130.65,489.74 130.98,489.73 131.32,489.73 131.66,489.73 131.99,489.73 132.33,489.72 132.67,489.72 133.01,489.72 133.34,489.72 133.68,489.71 134.02,489.71 134.36,489.71 134.69,489.71 135.03,489.70 135.37,489.70 135.70,489.70 136.04,489.70 136.38,489.69 136.72,489.69 137.05,489.69 137.39,489.69 137.73,489.69 138.07,489.68 138.40,489.68 138.74,489.68 139.08,489.68 139.41,489.67 139.75,489.67 140.09,489.67 140.43,489.67 140.76,489.66 141.10,489.66 141.44,489.66 141.78,489.66 142.11,489.65 142.45,489.65 142.79,489.65 143.12,489.65 143.46,489.64 143.80,489.64 144.14,489.64 144.47,489.64 144.81,489.64 145.15,489.63 145.48,489.63 145.82,489.63 146.16,489.63 146.50,489.62 146.83,489.62 147.17,489.62 147.51,489.62 147.85,489.61 148.18,489.61 148.52,489.61 148.86,489.61 149.19,489.60 149.53,489.60 149.87,489.60 150.21,489.59 150.54,489.59 150.88,489.59 151.22,489.58 151.56,489.58 151.89,489.58 152.23,489.57 152.57,489.57 152.90,489.57 153.24,489.56 153.58,489.56 153.92,489.56 154.25,489.55 154.59,489.55 154.93,489.55 155.27,489.55 155.60,489.54 155.94,489.54 156.28,489.54 156.61,489.53 156.95,489.53 157.29,489.53 157.63,489.52 157.96,489.52 158.30,489.52 158.64,489.51 158.97,489.51 159.31,489.51 159.65,489.50 159.99,489.50 160.32,489.50 160.66,489.49 161.00,489.49 161.34,489.49 161.67,489.48 162.01,489.48 162.35,489.48 162.68,489.48 163.02,489.47 163.36,489.47 163.70,489.47 164.03,489.46 164.37,489.46 164.71,489.46 165.05,489.45 165.38,489.45 165.72,489.45 166.06,489.44 166.39,489.44 166.73,489.44 167.07,489.43 167.41,489.43 167.74,489.43 168.08,489.42 168.42,489.42 168.75,489.42 169.09,489.41 169.43,489.41 169.77,489.41 170.10,489.41 170.44,489.40 170.78,489.40 171.12,489.40 171.45,489.39 171.79,489.39 172.13,489.39 172.46,489.38 172.80,489.38 173.14,489.38 173.48,489.37 173.81,489.37 174.15,489.37 174.49,489.36 174.83,489.36 175.16,489.36 175.50,489.35 175.84,489.35 176.17,489.35 176.51,489.34 176.85,489.34 177.19,489.34 177.52,489.34 177.86,489.33 178.20,489.33 178.54,489.33 178.87,489.32 179.21,489.32 179.55,489.32 179.88,489.31 180.22,489.31 180.56,489.31 180.90,489.30 181.23,489.30 181.57,489.30 181.91,489.29 182.25,489.29 182.58,489.29 182.92,489.28 183.26,489.28 183.59,489.28 183.93,489.27 184.27,489.27 184.61,489.27 184.94,489.27 185.28,489.26 185.62,489.26 185.95,489.26 186.29,489.25 186.63,489.25 186.97,489.25 187.30,489.24 187.64,489.24 187.98,489.24 188.32,489.23 188.65,489.23 188.99,489.23 189.33,489.22 189.66,489.22 190.00,489.21 190.34,489.21 190.68,489.20 191.01,489.20 191.35,489.19 191.69,489.19 192.03,489.18 192.36,489.18 192.70,489.17 193.04,489.17 193.37,489.16 193.71,489.16 194.05,489.16 194.39,489.15 194.72,489.15 195.06,489.14 195.40,489.14 195.74,489.13 196.07,489.13 196.41,489.12 196.75,489.12 197.08,489.11 197.42,489.11 197.76,489.10 198.10,489.10 198.43,489.09 198.77,489.09 199.11,489.08 199.44,489.08 199.78,489.07 200.12,489.07 200.46,489.06 200.79,489.06 201.13,489.06 201.47,489.05 201.81,489.05 202.14,489.04 202.48,489.04 202.82,489.03 203.15,489.03 203.49,489.02 203.83,489.02 204.17,489.01 204.50,489.01 204.84,489.00 205.18,489.00 205.52,488.99 205.85,488.99 206.19,488.98 206.53,488.98 206.86,488.97 207.20,488.97 207.54,488.96 207.88,488.96 208.21,488.95 208.55,488.95 208.89,488.95 209.22,488.94 209.56,488.94 209.90,488.93 210.24,488.93 210.57,488.92 210.91,488.92 211.25,488.91 211.59,488.91 211.92,488.90 212.26,488.90 212.60,488.89 212.93,488.89 213.27,488.88 213.61,488.88 213.95,488.87 214.28,488.87 214.62,488.86 214.96,488.86 215.30,488.85 215.63,488.85 215.97,488.85 216.31,488.83 216.64,488.81 216.98,488.79 217.32,488.78 217.66,488.76 217.99,488.74 218.33,488.72 218.67,488.71 219.01,488.69 219.34,488.67 219.68,488.65 220.02,488.64 220.35,488.62 220.69,488.60 221.03,488.59 221.37,488.57 221.70,488.55 222.04,488.53 222.38,488.52 222.72,488.50 223.05,488.48 223.39,488.46 223.73,488.45 224.06,488.43 224.40,488.41 224.74,488.40 225.08,488.38 225.41,488.36 225.75,488.34 226.09,488.33 226.42,488.31 226.76,488.29 227.10,488.27 227.44,488.26 227.77,488.24 228.11,488.22 228.45,488.20 228.79,488.18 229.12,488.15 229.46,488.12 229.80,488.10 230.13,488.07 230.47,488.04 230.81,488.02 231.15,487.99 231.48,487.96 231.82,487.94 232.16,487.91 232.50,487.89 232.83,487.86 233.17,487.83 233.51,487.81 233.84,487.78 234.18,487.75 234.52,487.73 234.86,487.70 235.19,487.64 235.53,487.57 235.87,487.51 236.20,487.44 236.54,487.38 236.88,487.32 237.22,487.25 237.55,487.19 237.89,487.13 238.23,487.06 238.57,487.00 238.90,486.94 239.24,486.87 239.58,486.81 239.91,486.74 240.25,486.68 240.59,486.51 240.93,486.33 241.26,486.16 241.60,485.98 241.94,485.81 242.28,485.63 242.61,485.46 242.95,485.28 243.29,485.11 243.62,484.93 243.96,484.76 244.30,484.58 244.64,484.41 244.97,484.23 245.31,484.06 245.65,483.88 245.99,483.51 246.32,483.13 246.66,482.76 247.00,482.38 247.33,482.00 247.67,481.63 248.01,481.25 248.35,480.88 248.68,480.50 249.02,480.13 249.36,479.75 249.70,479.24 250.03,478.69 250.37,478.15 250.71,477.60 251.04,477.05 251.38,476.51 251.72,475.96 252.06,475.41 252.39,474.87 252.73,474.32 253.07,473.77 253.40,473.22 253.74,472.68 254.08,471.88 254.42,471.09 254.75,470.29 255.09,469.50 255.43,468.70 255.77,467.90 256.10,467.11 256.44,466.31 256.78,465.45 257.11,464.59 257.45,463.73 257.79,462.87 258.13,462.00 258.46,461.14 258.80,460.28 259.14,459.42 259.48,458.56 259.81,457.11 260.15,454.78 260.49,452.46 260.82,450.13 261.16,447.81 261.50,445.48 261.84,443.15 262.17,440.83 262.51,438.50 262.85,436.18 263.19,433.85 263.52,430.73 263.86,427.61 264.20,424.49 264.53,421.37 264.87,418.25 265.21,415.12 265.55,412.00 265.88,408.88 266.22,405.76 266.56,402.64 266.89,399.22 267.23,395.61 267.57,391.99 267.91,388.38 268.24,384.76 268.58,381.15 268.92,377.53 269.26,373.86 269.59,370.03 269.93,366.20 270.27,362.37 270.60,358.54 270.94,354.70 271.28,350.87 271.62,347.04 271.95,343.29 272.29,339.66 272.63,336.04 272.97,332.41 273.30,328.78 273.64,325.16 273.98,323.88 274.31,322.70 274.65,321.53 274.99,320.67 275.33,320.61 275.66,320.55 276.00,320.49 276.34,320.44 276.68,320.38 277.01,320.32 277.35,321.20 277.69,322.61 278.02,324.03 278.36,325.44 278.70,327.17 279.04,329.37 279.37,331.58 279.71,333.79 280.05,338.00 280.38,344.39 280.72,350.78 281.06,357.16 281.40,363.55 281.73,369.93 282.07,376.11 282.41,381.64 282.75,387.17 283.08,392.71 283.42,398.24 283.76,403.72 284.09,409.02 284.43,414.31 284.77,419.61 285.11,424.90 285.44,430.19 285.78,435.49 286.12,440.78 286.46,446.08 286.79,450.76 287.13,454.51 287.47,458.26 287.80,462.01 288.14,465.76 288.48,469.52 288.82,473.27 289.15,477.02 289.49,478.74 289.83,479.96 290.17,481.18 290.50,482.39 290.84,483.61 291.18,484.83 291.51,486.04 291.85,486.56 292.19,487.08 292.53,487.60 292.86,488.11 293.20,488.63 293.54,489.15 293.87,489.44 294.21,489.58 294.55,489.72 294.89,489.86 295.22,490.00 295.56,490.15 295.90,490.29 296.24,490.38 296.57,490.40 296.91,490.42 297.25,490.44 297.58,490.46 297.92,490.48 298.26,490.50 298.60,490.50 298.93,490.50 299.27,490.50 299.61,490.50 299.95,490.50 300.28,490.50 300.62,490.50 300.96,490.50 301.29,490.50 301.63,490.50 301.97,490.50 302.31,490.50 302.64,490.50 302.98,490.50 303.32,490.50 303.66,490.50 303.99,490.50 304.33,490.50 304.67,490.50 305.00,490.50 305.34,490.50 305.68,490.50 306.02,490.50 306.35,490.50 306.69,490.50 307.03,490.50 307.36,490.50 307.70,490.50 308.04,490.50 308.38,490.50 308.71,490.50 309.05,490.50 309.39,490.50 309.73,490.50 310.06,490.50 310.40,490.50" stroke="#3550b6" stroke-linecap="square"/>
</g>
<rect x="27.2" y="303.7" width="296.6" height="195.8" fill="none" stroke="#000" stroke-width="0.62"/>
<text x="40.60" y="508.25" text-anchor="middle" font-size="5.6">0.0</text>
<text x="94.56" y="508.25" text-anchor="middle" font-size="5.6">0.2</text>
<text x="148.52" y="508.25" text-anchor="middle" font-size="5.6">0.4</text>
<text x="202.48" y="508.25" text-anchor="middle" font-size="5.6">0.6</text>
<text x="256.44" y="508.25" text-anchor="middle" font-size="5.6">0.8</text>
<text x="310.40" y="508.25" text-anchor="middle" font-size="5.6">1.0</text>
<text x="22.60" y="492.90" text-anchor="end" font-size="5.55">0.00</text>
<text x="22.60" y="467.44" text-anchor="end" font-size="5.55">0.02</text>
<text x="22.60" y="441.98" text-anchor="end" font-size="5.55">0.04</text>
<text x="22.60" y="416.52" text-anchor="end" font-size="5.55">0.06</text>
<text x="22.60" y="391.06" text-anchor="end" font-size="5.55">0.08</text>
<text x="22.60" y="365.60" text-anchor="end" font-size="5.55">0.10</text>
<text x="22.60" y="340.14" text-anchor="end" font-size="5.55">0.12</text>
<text x="22.60" y="314.68" text-anchor="end" font-size="5.55">0.14</text>
<path d="M40.60 499.50v2.1M94.56 499.50v2.1M148.52 499.50v2.1M202.48 499.50v2.1M256.44 499.50v2.1M310.40 499.50v2.1M27.20 490.40h-2.1M27.20 464.94h-2.1M27.20 439.48h-2.1M27.20 414.02h-2.1M27.20 388.56h-2.1M27.20 363.10h-2.1M27.20 337.64h-2.1M27.20 312.18h-2.1" stroke="#000" stroke-width="0.62" fill="none"/>
<text x="175.50" y="516.40" text-anchor="middle">Quality Score</text>
<text transform="translate(6.10 402.20) rotate(-90)" text-anchor="middle">Density</text>
<text x="175.20" y="299.80" text-anchor="middle" font-size="7.05">Distribution of DifFIQA Quality Scores on LFW</text>
<rect x="29.50" y="306.40" width="85.3" height="37.1" rx="1.2" ry="1.2" fill="#fff" fill-opacity="0.8" stroke="#cccccc" stroke-width="0.55"/>
<line x1="31.80" y1="311.50" x2="44.60" y2="311.50" stroke="#d8283a" stroke-width="1.0" stroke-opacity="0.88" stroke-dasharray="3.25 1.45"/>
<text x="49.00" y="313.15" font-size="5.93">MTCNN (Cropped)</text>
<line x1="31.80" y1="320.50" x2="44.60" y2="320.50" stroke="#d8283a" stroke-width="1.0" stroke-opacity="0.88"/>
<text x="49.00" y="322.10" font-size="5.93">MTCNN (Aligned)</text>
<line x1="31.80" y1="329.50" x2="44.60" y2="329.50" stroke="#3550b6" stroke-width="1.0" stroke-opacity="0.88" stroke-dasharray="3.25 1.45"/>
<text x="49.00" y="331.05" font-size="5.93">RetinaFace (Cropped)</text>
<line x1="31.80" y1="337.50" x2="44.60" y2="337.50" stroke="#3550b6" stroke-width="1.0" stroke-opacity="0.88"/>
<text x="49.00" y="340.00" font-size="5.93">RetinaFace (Aligned)</text>
</g>
<text x="175.5" y="556.65" text-anchor="middle" font-family="'Liberation Serif', 'DejaVu Serif', serif" font-size="20.5" fill="#111">(c)</text>
<g font-family="'DejaVu Sans', 'Liberation Sans', sans-serif" font-size="5.85" fill="#1a1a1a" stroke="#1a1a1a" stroke-width="0.14" paint-order="stroke">
<clipPath id="cp3"><rect x="386.4" y="303.7" width="296.4" height="195.8"/></clipPath>
<g clip-path="url(#cp3)" fill="none" stroke-width="1.0" stroke-linejoin="round" stroke-opacity="0.88">
<polyline points="399.40,490.50 402.12,490.50 404.85,490.50 407.57,490.50 410.29,490.50 413.02,490.50 415.74,490.50 418.46,490.50 421.19,490.50 423.91,490.50 426.63,490.48 429.36,490.41 432.08,490.43 434.80,490.36 437.53,489.92 440.25,490.10 442.97,490.31 445.69,489.82 448.42,489.87 451.14,489.81 453.86,489.78 456.59,488.96 459.31,487.57 462.03,487.22 464.76,484.93 467.48,482.84 470.20,482.36 472.93,480.73 475.65,476.48 478.37,472.51 481.10,466.55 483.82,461.29 486.54,455.16 489.27,451.19 491.99,445.59 494.71,438.11 497.44,430.26 500.16,423.18 502.88,413.25 505.61,409.20 508.33,402.11 511.05,397.36 513.78,392.25 516.50,389.79 519.22,390.24 521.95,394.03 524.67,394.17 527.39,392.32 530.12,396.02 532.84,397.16 535.56,396.49 538.28,405.12 541.01,416.12 543.73,425.01 546.45,431.46 549.18,429.47 551.90,439.39 554.62,442.70 557.35,449.52 560.07,457.11 562.79,458.95 565.52,467.04 568.24,469.52 570.96,469.87 573.69,475.77 576.41,477.52 579.13,479.67 581.86,482.29 584.58,483.21 587.30,483.94 590.03,486.75 592.75,487.74 595.47,488.69 598.20,489.47 600.92,488.51 603.64,489.73 606.37,489.76 609.09,490.06 611.81,489.89 614.54,490.45 617.26,490.29 619.98,490.50 622.71,490.50 625.43,490.50 628.15,490.50 630.87,490.50 633.60,490.50 636.32,490.50 639.04,490.50 641.77,490.50 644.49,490.50 647.21,490.50 649.94,490.50 652.66,490.50 655.38,490.50 658.11,490.50 660.83,490.50 663.55,490.50 666.28,490.50 669.00,490.50" stroke="#d8283a" stroke-dasharray="3.25 1.45" stroke-width="1.1"/>
<polyline points="399.40,490.50 402.12,490.50 404.85,490.50 407.57,490.50 410.29,490.50 413.02,490.50 415.74,490.50 418.46,490.50 421.19,490.50 423.91,490.50 426.63,490.50 429.36,490.45 432.08,490.31 434.80,490.09 437.53,490.29 440.25,490.38 442.97,489.95 445.69,489.30 448.42,489.50 451.14,488.87 453.86,488.22 456.59,488.22 459.31,488.92 462.03,487.80 464.76,488.03 467.48,487.80 470.20,488.13 472.93,487.48 475.65,487.16 478.37,487.63 481.10,487.92 483.82,487.71 486.54,486.29 489.27,487.05 491.99,487.51 494.71,487.12 497.44,487.98 500.16,487.98 502.88,488.26 505.61,487.69 508.33,487.82 511.05,487.17 513.78,487.56 516.50,487.53 519.22,487.57 521.95,486.59 524.67,486.90 527.39,486.29 530.12,486.27 532.84,484.86 535.56,485.53 538.28,485.12 541.01,483.37 543.73,482.56 546.45,481.27 549.18,478.95 551.90,479.16 554.62,477.38 557.35,472.60 560.07,471.83 562.79,467.22 565.52,466.06 568.24,460.78 570.96,459.44 573.69,449.09 576.41,439.02 579.13,429.91 581.86,413.10 584.58,397.09 587.30,374.61 590.03,358.98 592.75,339.77 595.47,331.51 598.20,319.90 600.92,312.31 603.64,316.33 606.37,342.23 609.09,361.43 611.81,388.90 614.54,414.58 617.26,439.59 619.98,460.80 622.71,475.32 625.43,482.01 628.15,487.15 630.87,489.83 633.60,490.50 636.32,490.50 639.04,490.50 641.77,490.50 644.49,490.50 647.21,490.50 649.94,490.50 652.66,490.50 655.38,490.50 658.11,490.50 660.83,490.50 663.55,490.50 666.28,490.50 669.00,490.50" stroke="#d8283a" stroke-linecap="square"/>
<polyline points="399.40,490.50 402.12,490.50 404.85,490.50 407.57,490.50 410.29,490.50 413.02,490.50 415.74,490.50 418.46,490.50 421.19,490.50 423.91,490.50 426.63,490.50 429.36,490.23 432.08,490.09 434.80,490.15 437.53,490.23 440.25,490.02 442.97,489.62 445.69,489.77 448.42,489.77 451.14,489.42 453.86,489.42 456.59,489.70 459.31,489.09 462.03,488.02 464.76,486.35 467.48,484.18 470.20,482.70 472.93,482.09 475.65,479.05 478.37,474.37 481.10,471.55 483.82,463.52 486.54,455.09 489.27,455.97 491.99,449.23 494.71,445.57 497.44,434.76 500.16,425.41 502.88,412.64 505.61,410.52 508.33,402.32 511.05,401.94 513.78,394.93 516.50,394.03 519.22,393.14 521.95,398.72 524.67,391.80 527.39,392.25 530.12,399.66 532.84,401.18 535.56,402.30 538.28,409.45 541.01,412.22 543.73,421.11 546.45,430.98 549.18,435.27 551.90,436.85 554.62,440.64 557.35,450.27 560.07,456.90 562.79,465.31 565.52,466.62 568.24,472.07 570.96,474.19 573.69,474.85 576.41,479.22 579.13,477.96 581.86,481.54 584.58,482.26 587.30,484.30 590.03,487.08 592.75,488.07 595.47,488.61 598.20,488.50 600.92,489.07 603.64,489.46 606.37,489.22 609.09,489.69 611.81,489.85 614.54,490.22 617.26,490.41 619.98,490.43 622.71,490.50 625.43,490.50 628.15,490.50 630.87,490.50 633.60,490.50 636.32,490.50 639.04,490.50 641.77,490.50 644.49,490.50 647.21,490.50 649.94,490.50 652.66,490.50 655.38,490.50 658.11,490.50 660.83,490.50 663.55,490.50 666.28,490.50 669.00,490.50" stroke="#3550b6" stroke-dasharray="3.25 1.45" stroke-width="1.1"/>
<polyline points="399.40,490.50 402.12,490.50 404.85,490.50 407.57,490.50 410.29,490.50 413.02,490.50 415.74,490.50 418.46,490.50 421.19,490.50 423.91,490.50 426.63,490.47 429.36,490.44 432.08,490.38 434.80,490.27 437.53,490.16 440.25,489.72 442.97,490.18 445.69,489.25 448.42,489.61 451.14,489.05 453.86,488.69 456.59,488.89 459.31,488.19 462.03,487.45 464.76,487.85 467.48,487.14 470.20,487.95 472.93,487.69 475.65,487.10 478.37,487.87 481.10,487.84 483.82,486.91 486.54,487.02 489.27,485.81 491.99,487.69 494.71,487.35 497.44,487.30 500.16,487.66 502.88,487.60 505.61,488.03 508.33,487.74 511.05,487.98 513.78,487.72 516.50,486.92 519.22,487.62 521.95,486.84 524.67,486.41 527.39,486.11 530.12,486.66 532.84,485.04 535.56,484.14 538.28,484.22 541.01,483.52 543.73,482.27 546.45,481.90 549.18,479.11 551.90,479.25 554.62,477.80 557.35,473.78 560.07,471.76 562.79,466.89 565.52,463.22 568.24,463.57 570.96,455.96 573.69,446.81 576.41,440.27 579.13,432.68 581.86,412.46 584.58,390.80 587.30,376.84 590.03,360.99 592.75,346.02 595.47,333.30 598.20,323.69 600.92,316.77 603.64,324.81 606.37,341.11 609.09,360.99 611.81,388.90 614.54,415.02 617.26,440.26 619.98,461.47 622.71,475.76 625.43,482.46 628.15,487.37 630.87,489.83 633.60,490.50 636.32,490.47 639.04,490.50 641.77,490.50 644.49,490.50 647.21,490.50 649.94,490.50 652.66,490.50 655.38,490.50 658.11,490.50 660.83,490.50 663.55,490.50 666.28,490.50 669.00,490.50" stroke="#3550b6" stroke-linecap="square"/>
</g>
<rect x="386.4" y="303.7" width="296.4" height="195.8" fill="none" stroke="#000" stroke-width="0.62"/>
<text x="399.40" y="508.25" text-anchor="middle" font-size="5.6">0.0</text>
<text x="453.32" y="508.25" text-anchor="middle" font-size="5.6">0.2</text>
<text x="507.24" y="508.25" text-anchor="middle" font-size="5.6">0.4</text>
<text x="561.16" y="508.25" text-anchor="middle" font-size="5.6">0.6</text>
<text x="615.08" y="508.25" text-anchor="middle" font-size="5.6">0.8</text>
<text x="669.00" y="508.25" text-anchor="middle" font-size="5.6">1.0</text>
<text x="381.80" y="493.00" text-anchor="end" font-size="5.55">0.00</text>
<text x="381.80" y="470.67" text-anchor="end" font-size="5.55">0.01</text>
<text x="381.80" y="448.34" text-anchor="end" font-size="5.55">0.02</text>
<text x="381.80" y="426.01" text-anchor="end" font-size="5.55">0.03</text>
<text x="381.80" y="403.68" text-anchor="end" font-size="5.55">0.04</text>
<text x="381.80" y="381.35" text-anchor="end" font-size="5.55">0.05</text>
<text x="381.80" y="359.02" text-anchor="end" font-size="5.55">0.06</text>
<text x="381.80" y="336.69" text-anchor="end" font-size="5.55">0.07</text>
<text x="381.80" y="314.36" text-anchor="end" font-size="5.55">0.08</text>
<path d="M399.40 499.50v2.1M453.32 499.50v2.1M507.24 499.50v2.1M561.16 499.50v2.1M615.08 499.50v2.1M669.00 499.50v2.1M386.40 490.50h-2.1M386.40 468.17h-2.1M386.40 445.84h-2.1M386.40 423.51h-2.1M386.40 401.18h-2.1M386.40 378.85h-2.1M386.40 356.52h-2.1M386.40 334.19h-2.1M386.40 311.86h-2.1" stroke="#000" stroke-width="0.62" fill="none"/>
<text x="534.60" y="516.40" text-anchor="middle">Quality Score</text>
<text transform="translate(365.30 402.20) rotate(-90)" text-anchor="middle">Density</text>
<text x="534.30" y="299.80" text-anchor="middle" font-size="7.05">Distribution of SDD-FIQA Quality Scores on LFW</text>
<rect x="388.70" y="306.40" width="85.3" height="37.1" rx="1.2" ry="1.2" fill="#fff" fill-opacity="0.8" stroke="#cccccc" stroke-width="0.55"/>
<line x1="391.00" y1="311.50" x2="403.80" y2="311.50" stroke="#d8283a" stroke-width="1.0" stroke-opacity="0.88" stroke-dasharray="3.25 1.45"/>
<text x="408.20" y="313.15" font-size="5.93">MTCNN (Cropped)</text>
<line x1="391.00" y1="320.50" x2="403.80" y2="320.50" stroke="#d8283a" stroke-width="1.0" stroke-opacity="0.88"/>
<text x="408.20" y="322.10" font-size="5.93">MTCNN (Aligned)</text>
<line x1="391.00" y1="329.50" x2="403.80" y2="329.50" stroke="#3550b6" stroke-width="1.0" stroke-opacity="0.88" stroke-dasharray="3.25 1.45"/>
<text x="408.20" y="331.05" font-size="5.93">RetinaFace (Cropped)</text>
<line x1="391.00" y1="337.50" x2="403.80" y2="337.50" stroke="#3550b6" stroke-width="1.0" stroke-opacity="0.88"/>
<text x="408.20" y="340.00" font-size="5.93">RetinaFace (Aligned)</text>
</g>
<text x="524.2" y="556.65" text-anchor="middle" font-family="'Liberation Serif', 'DejaVu Serif', serif" font-size="20.5" fill="#111">(d)</text>
</svg>
</body>
</html>
